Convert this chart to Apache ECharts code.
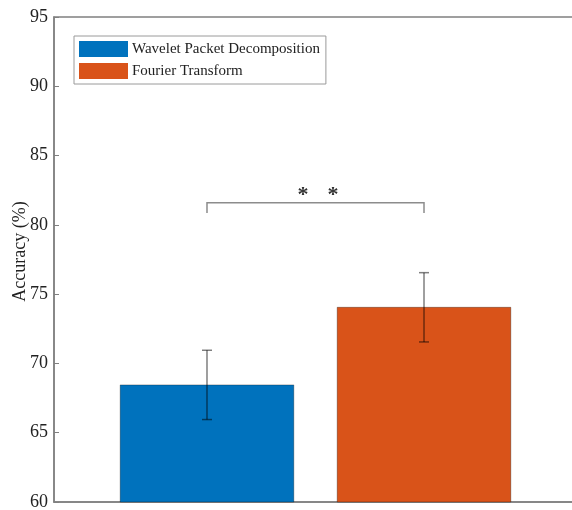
<!DOCTYPE html>
<html>
<head>
<meta charset="utf-8">
<script src="https://cdn.jsdelivr.net/npm/echarts@6/dist/echarts.min.js"></script>
<style>
  html, body { margin: 0; padding: 0; background: #fff; }
  #chart { width: 572px; height: 510px; }
</style>
</head>
<body>
<div id="chart"></div>
<script>
// Mean accuracy per feature-extraction method, with its standard deviation
const methods = ['Wavelet Packet Decomposition', 'Fourier Transform'];
const positions = [1, 2];
const meanAccuracy = [68.45, 74.05];
const stdAccuracy = [2.5, 2.5];
const barColors = ['#0072BD', '#D95319'];

// y-axis ticks
const yMin = 60, yMax = 95, yStep = 5;

// significance bracket between the two methods
const bracketLevel = 81.6;
const bracketDrop = 0.75;
const starLevel = 82.1;
const starMark = '*';

const FONT = '"Liberation Serif", "Times New Roman", serif';
const AXIS_GRAY = '#808080';

const chart = echarts.init(document.getElementById('chart'), null, { renderer: 'canvas' });

function barSeries(i) {
  return {
    name: methods[i],
    type: 'custom',
    color: barColors[i],
    data: [[positions[i], meanAccuracy[i], stdAccuracy[i]]],
    encode: { x: 0, y: 1 },
    z: 2,
    renderItem: function (params, api) {
      const x = api.value(0), mean = api.value(1), sd = api.value(2);
      const w = api.size([0.8, 0])[0];
      const top = api.coord([x, mean]);
      const base = api.coord([x, yMin]);
      const hi = api.coord([x, mean + sd]);
      const lo = api.coord([x, mean - sd]);
      const cap = 5;
      const errStyle = { stroke: 'rgba(0,0,0,0.5)', lineWidth: 1.5 };
      return {
        type: 'group',
        children: [
          {
            type: 'rect',
            shape: { x: top[0] - w / 2, y: top[1], width: w, height: base[1] - top[1] },
            style: { fill: barColors[i], stroke: 'rgba(0,0,0,0.3)', lineWidth: 1 }
          },
          { type: 'line', shape: { x1: hi[0], y1: hi[1], x2: lo[0], y2: lo[1] }, style: errStyle },
          { type: 'line', shape: { x1: hi[0] - cap, y1: hi[1], x2: hi[0] + cap, y2: hi[1] }, style: errStyle },
          { type: 'line', shape: { x1: lo[0] - cap, y1: lo[1], x2: lo[0] + cap, y2: lo[1] }, style: errStyle }
        ]
      };
    }
  };
}

const bracketSeries = {
  type: 'custom',
  silent: true,
  data: [[positions[0], positions[1], bracketLevel]],
  encode: { x: [0, 1], y: 2 },
  z: 3,
  renderItem: function (params, api) {
    const a = api.coord([api.value(0), bracketLevel]);
    const b = api.coord([api.value(1), bracketLevel]);
    const aLow = api.coord([api.value(0), bracketLevel - bracketDrop]);
    const bLow = api.coord([api.value(1), bracketLevel - bracketDrop]);
    const mid = api.coord([(api.value(0) + api.value(1)) / 2 + 0.012, starLevel]);
    const starStyle = {
      text: starMark, font: 'bold 22px ' + FONT, fill: '#333',
      align: 'center', verticalAlign: 'middle'
    };
    return {
      type: 'group',
      children: [
        {
          type: 'polyline',
          shape: { points: [aLow, a, b, bLow] },
          style: { stroke: '#8c8c8c', lineWidth: 1.5, fill: null }
        },
        { type: 'text', x: mid[0] - 15, y: mid[1], style: starStyle },
        { type: 'text', x: mid[0] + 15, y: mid[1], style: starStyle }
      ]
    };
  }
};

chart.setOption({
  animation: false,
  backgroundColor: '#fff',
  grid: {
    left: 54, top: 17, width: 523, height: 485,
    outerBoundsMode: 'none',
    containLabel: false,
    show: true, borderColor: AXIS_GRAY, borderWidth: 1.5, backgroundColor: 'transparent'
  },
  legend: {
    orient: 'vertical',
    left: 74, top: 36,
    padding: [5, 6, 5, 5],
    itemGap: 6,
    itemWidth: 49, itemHeight: 16,
    itemStyle: { borderWidth: 0 },
    backgroundColor: '#fff',
    borderColor: '#9a9a9a', borderWidth: 1,
    textStyle: { fontFamily: FONT, fontSize: 15, color: '#222', padding: [0, 0, 0, -1] },
    data: methods.map(function (m, i) {
      return { name: m, icon: 'rect', itemStyle: { color: barColors[i] } };
    })
  },
  xAxis: {
    type: 'value',
    min: 0.295, max: 2.705,
    splitLine: { show: false },
    axisLine: { show: true, lineStyle: { color: AXIS_GRAY, width: 1.5 } },
    axisTick: { show: true, inside: true, length: 5, customValues: positions, lineStyle: { color: AXIS_GRAY } },
    axisLabel: { show: false }
  },
  yAxis: [
    {
      type: 'value',
      min: yMin, max: yMax, interval: yStep,
      name: 'Accuracy (%)',
      nameLocation: 'middle',
      nameGap: 25,
      nameMoveOverlap: false,
      nameTextStyle: { fontFamily: FONT, fontSize: 18, color: '#222', padding: [0, 0, 0, 16] },
      splitLine: { show: false },
      axisLine: { show: true, lineStyle: { color: AXIS_GRAY, width: 1.5 } },
      axisTick: { show: true, inside: true, length: 5, lineStyle: { color: AXIS_GRAY } },
      axisLabel: { fontFamily: FONT, fontSize: 18, color: '#222', margin: 6 }
    },
    {
      type: 'value',
      position: 'right',
      min: yMin, max: yMax, interval: yStep,
      splitLine: { show: false },
      axisLine: { show: true, lineStyle: { color: AXIS_GRAY, width: 1.5 } },
      axisTick: { show: true, inside: true, length: 5, lineStyle: { color: AXIS_GRAY } },
      axisLabel: { show: false }
    }
  ],
  series: [barSeries(0), barSeries(1), bracketSeries]
});
</script>
</body>
</html>
